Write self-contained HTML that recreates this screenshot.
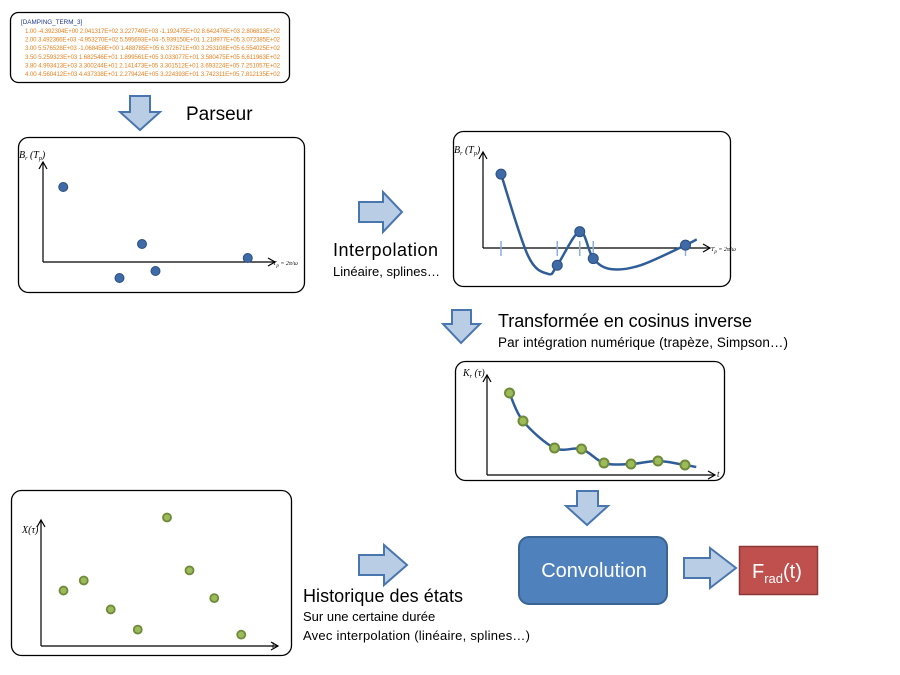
<!DOCTYPE html>
<html><head><meta charset="utf-8"><style>
html,body{margin:0;padding:0;background:#fff}
svg{display:block;font-family:"Liberation Sans",sans-serif}
.serif{font-family:"Liberation Serif",serif;font-style:italic}
</style></head><body>
<svg id="s" width="900" height="675" viewBox="0 0 900 675">
<defs>
<marker id="ah" markerWidth="10" markerHeight="10" refX="8" refY="5" orient="auto" markerUnits="userSpaceOnUse"><path d="M1,1 L8,5 L1,9" fill="none" stroke="#000" stroke-width="1.2"/></marker>
</defs>
<g>
<rect x="10.5" y="12.5" width="279" height="70" rx="8" fill="#fff" stroke="#000" stroke-width="1.3"/>
<text x="21" y="24" font-size="6.3" fill="#1f3a8a">[DAMPING_TERM_3]</text>
<g font-size="6.1" fill="#e8801e" id="datalines"></g>
</g>
<path d="M130,96 H150 V112 H160 L140,130 L120,112 H130 Z" fill="#b9cde5" stroke="#4a76b0" stroke-width="2"/>
<text x="186" y="120" font-size="19">Parseur</text>

<path d="M359,202 H383 V192 L402,212 L383,232 V222 H359 Z" fill="#b9cde5" stroke="#4a76b0" stroke-width="2"/>
<text x="333" y="256" font-size="18" textLength="105">Interpolation</text>
<text x="333" y="276" font-size="13">Linéaire, splines…</text>

<path d="M452,310 H471 V324 H480 L461,343 L443,324 H452 Z" fill="#b9cde5" stroke="#4a76b0" stroke-width="2"/>
<text x="498" y="327" font-size="18" textLength="254">Transformée en cosinus inverse</text>
<text x="498" y="347" font-size="13.5" textLength="290">Par intégration numérique (trapèze, Simpson…)</text>

<path d="M577,491 H598 V506 H608 L587,525 L566,506 H577 Z" fill="#b9cde5" stroke="#4a76b0" stroke-width="2"/>
<path d="M359,555 H384 V545 L407,565 L384,585 V575 H359 Z" fill="#b9cde5" stroke="#4a76b0" stroke-width="2"/>
<text x="303" y="602" font-size="18" textLength="160">Historique des états</text>
<text x="303" y="621" font-size="13">Sur une certaine durée</text>
<text x="303" y="640" font-size="13" textLength="227">Avec interpolation (linéaire, splines…)</text>
<path d="M684,558 H710 V548 L736,568 L710,588 V578 H684 Z" fill="#b9cde5" stroke="#4a76b0" stroke-width="2"/>

<g>
<rect x="519" y="537" width="148" height="67" rx="10" fill="#4f81bd" stroke="#3a6494" stroke-width="2"/>
<text x="594" y="577" font-size="20" fill="#fff" text-anchor="middle">Convolution</text>
</g>
<g>
<rect x="739.5" y="546.5" width="78" height="48" fill="#c0504d" stroke="#8c3836" stroke-width="1.5"/>
<text x="752" y="578" font-size="20" fill="#fff">F<tspan font-size="13" dy="5">rad</tspan><tspan dy="-5">(t)</tspan></text>
</g>

<rect x="18.5" y="137.5" width="286" height="155" rx="10" fill="none" stroke="#000" stroke-width="1.3"/>
<rect x="453.5" y="131.5" width="277" height="155" rx="10" fill="none" stroke="#000" stroke-width="1.3"/>
<rect x="455.5" y="361.5" width="269" height="119" rx="10" fill="none" stroke="#000" stroke-width="1.3"/>
<rect x="11.5" y="490.5" width="280" height="165" rx="10" fill="none" stroke="#000" stroke-width="1.3"/>

<g id="p1"></g>
<g id="p2"></g>
<g id="p3"></g>
<g id="p4"></g>
</svg>
<script>
const dataLines=["1.00 -4.392304E+00 2.041317E+02 3.227740E+03 -1.192475E+02 8.642476E+03 2.806813E+02",
"2.00 3.492366E+03 -4.953270E+02 5.595693E+04 -5.939150E+01 1.218977E+05 3.072385E+02",
"3.00 5.576528E+03 -1.068458E+00 1.488785E+05 6.372671E+00 3.253108E+05 6.554025E+02",
"3.50 5.259323E+03 1.682546E+01 1.899561E+05 3.033077E+01 3.580475E+05 6.611963E+02",
"3.80 4.993413E+03 3.300244E+01 2.141473E+05 3.301512E+01 3.693224E+05 7.251057E+02",
"4.00 4.560412E+03 4.437338E+01 2.279424E+05 3.224393E+01 3.742311E+05 7.812135E+02"];
const rawX=[0.09,0.44,0.34,0.50,0.91];
const rawY=[0.75,0.18,-0.16,-0.09,0.04];
const nodeX=[0.08,0.33,0.43,0.49,0.90];
const nodeY=[0.77,-0.18,0.17,-0.11,0.03];
const splineX=[0.08,0.20,0.29,0.33,0.43,0.49,0.57,0.70,0.90,0.95];
const splineY=[0.77,-0.08,-0.27,-0.18,0.17,-0.11,-0.22,-0.18,0.03,0.09];
const kX=[0.10,0.16,0.30,0.42,0.52,0.64,0.76,0.88];
const kY=[0.82,0.54,0.27,0.26,0.12,0.11,0.14,0.10];
const kCurveX=[0.10,0.16,0.30,0.42,0.52,0.64,0.76,0.88,0.93];
const kCurveY=[0.82,0.54,0.27,0.26,0.12,0.11,0.14,0.10,0.08];
const hX=[0.10,0.19,0.31,0.43,0.56,0.66,0.77,0.89];
const hY=[0.44,0.52,0.29,0.13,1.02,0.60,0.38,0.09];

const NS="http://www.w3.org/2000/svg";
function mk(tag,attrs,parent){const e=document.createElementNS(NS,tag);for(const k in attrs)e.setAttribute(k,attrs[k]);parent.appendChild(e);return e;}
const dl=document.getElementById('datalines');
dataLines.forEach((l,i)=>{const t=mk('text',{x:25,y:33+i*8.6,textLength:255},dl);


t.textContent=l;});

function axes(g,ox,oy,top,right){
 const a=mk('line',{x1:ox,y1:oy,x2:ox,y2:top,stroke:'#000','stroke-width':1.2,'marker-end':'url(#ah)'},g);
 
 const b=mk('line',{x1:ox,y1:oy,x2:right,y2:oy,stroke:'#000','stroke-width':1.2,'marker-end':'url(#ah)'},g);
 
}
function smooth(pts){let d='M'+pts[0][0]+','+pts[0][1];
 for(let i=0;i<pts.length-1;i++){const p0=pts[i-1]||pts[i],p1=pts[i],p2=pts[i+1],p3=pts[i+2]||p2;
 d+=' C'+(p1[0]+(p2[0]-p0[0])/6)+','+(p1[1]+(p2[1]-p0[1])/6)+' '+(p2[0]-(p3[0]-p1[0])/6)+','+(p2[1]-(p3[1]-p1[1])/6)+' '+p2[0]+','+p2[1];}
 return d;}
function lbl(g,x,y,html,size){const t=mk('text',{x:x,y:y,'font-size':size||9,class:'serif'},g);t.innerHTML=html;return t;}

(function(){const g=document.getElementById('p1');const ox=43,oy=262,W=225,H=100;
 const sx=v=>ox+v*W, sy=v=>oy-v*H;
 axes(g,ox,oy,162,275);
 let t=lbl(g,19,158,'B<tspan font-size="6" dy="2">r</tspan><tspan dy="-2"> (T</tspan><tspan font-size="6" dy="2">p</tspan><tspan dy="-2">)</tspan>',10);
 
 t=lbl(g,273,265,'T<tspan font-size="5" dy="2">p</tspan><tspan dy="-2"> = 2π/ω</tspan>',6);
 
 rawX.forEach((v,i)=>{const c=mk('circle',{cx:sx(v),cy:sy(rawY[i]),r:4.5,fill:'#3f6aa8',stroke:'#2c4f80','stroke-width':1},g);
 });
})();
(function(){const g=document.getElementById('p2');const ox=483,oy=248,W=225,H=96;
 const sx=v=>ox+v*W, sy=v=>oy-v*H;
 axes(g,ox,oy,152,710);
 let t=lbl(g,454,153,'B<tspan font-size="6" dy="2">r</tspan><tspan dy="-2"> (T</tspan><tspan font-size="6" dy="2">p</tspan><tspan dy="-2">)</tspan>',10);
 
 t=lbl(g,711,251,'T<tspan font-size="5" dy="2">p</tspan><tspan dy="-2"> = 2π/ω</tspan>',6);
 
 nodeX.forEach(v=>{const l=mk('line',{x1:sx(v),x2:sx(v),y1:oy-7,y2:oy+8,stroke:'#8eaedb','stroke-width':1.5},g);
 });
 const p=mk('path',{d:smooth(splineX.map((v,i)=>[sx(v),sy(splineY[i])])),fill:'none',stroke:'#2f5d98','stroke-width':2.5},g);
 
 nodeX.forEach((v,i)=>{const c=mk('circle',{cx:sx(v),cy:sy(nodeY[i]),r:5,fill:'#3f6aa8',stroke:'#2c4f80','stroke-width':1},g);
 });
})();
(function(){const g=document.getElementById('p3');const ox=487,oy=475,W=225,H=100;
 const sx=v=>ox+v*W, sy=v=>oy-v*H;
 axes(g,ox,oy,375,715);
 let t=lbl(g,463,376,'K<tspan font-size="6" dy="2">r</tspan><tspan dy="-2"> (τ)</tspan>',10);
 
 t=lbl(g,717,477,'t',9);
 const p=mk('path',{d:smooth(kCurveX.map((v,i)=>[sx(v),sy(kCurveY[i])])),fill:'none',stroke:'#2f5d98','stroke-width':2.5},g);
 
 kX.forEach((v,i)=>{const c=mk('circle',{cx:sx(v),cy:sy(kY[i]),r:4.5,fill:'#9bbb59',stroke:'#6f8a3a','stroke-width':2},g);
 });
})();
(function(){const g=document.getElementById('p4');const ox=41,oy=646,W=225,H=126;
 const sx=v=>ox+v*W, sy=v=>oy-v*H;
 axes(g,ox,oy,520,278);
 let t=lbl(g,22,533,'X(τ)',10);
 t=lbl(g,272,648,'t',9);
 hX.forEach((v,i)=>{const c=mk('circle',{cx:sx(v),cy:sy(hY[i]),r:4,fill:'#9bbb59',stroke:'#6f8a3a','stroke-width':1.8},g);
 });
})();
</script>
</body></html>
